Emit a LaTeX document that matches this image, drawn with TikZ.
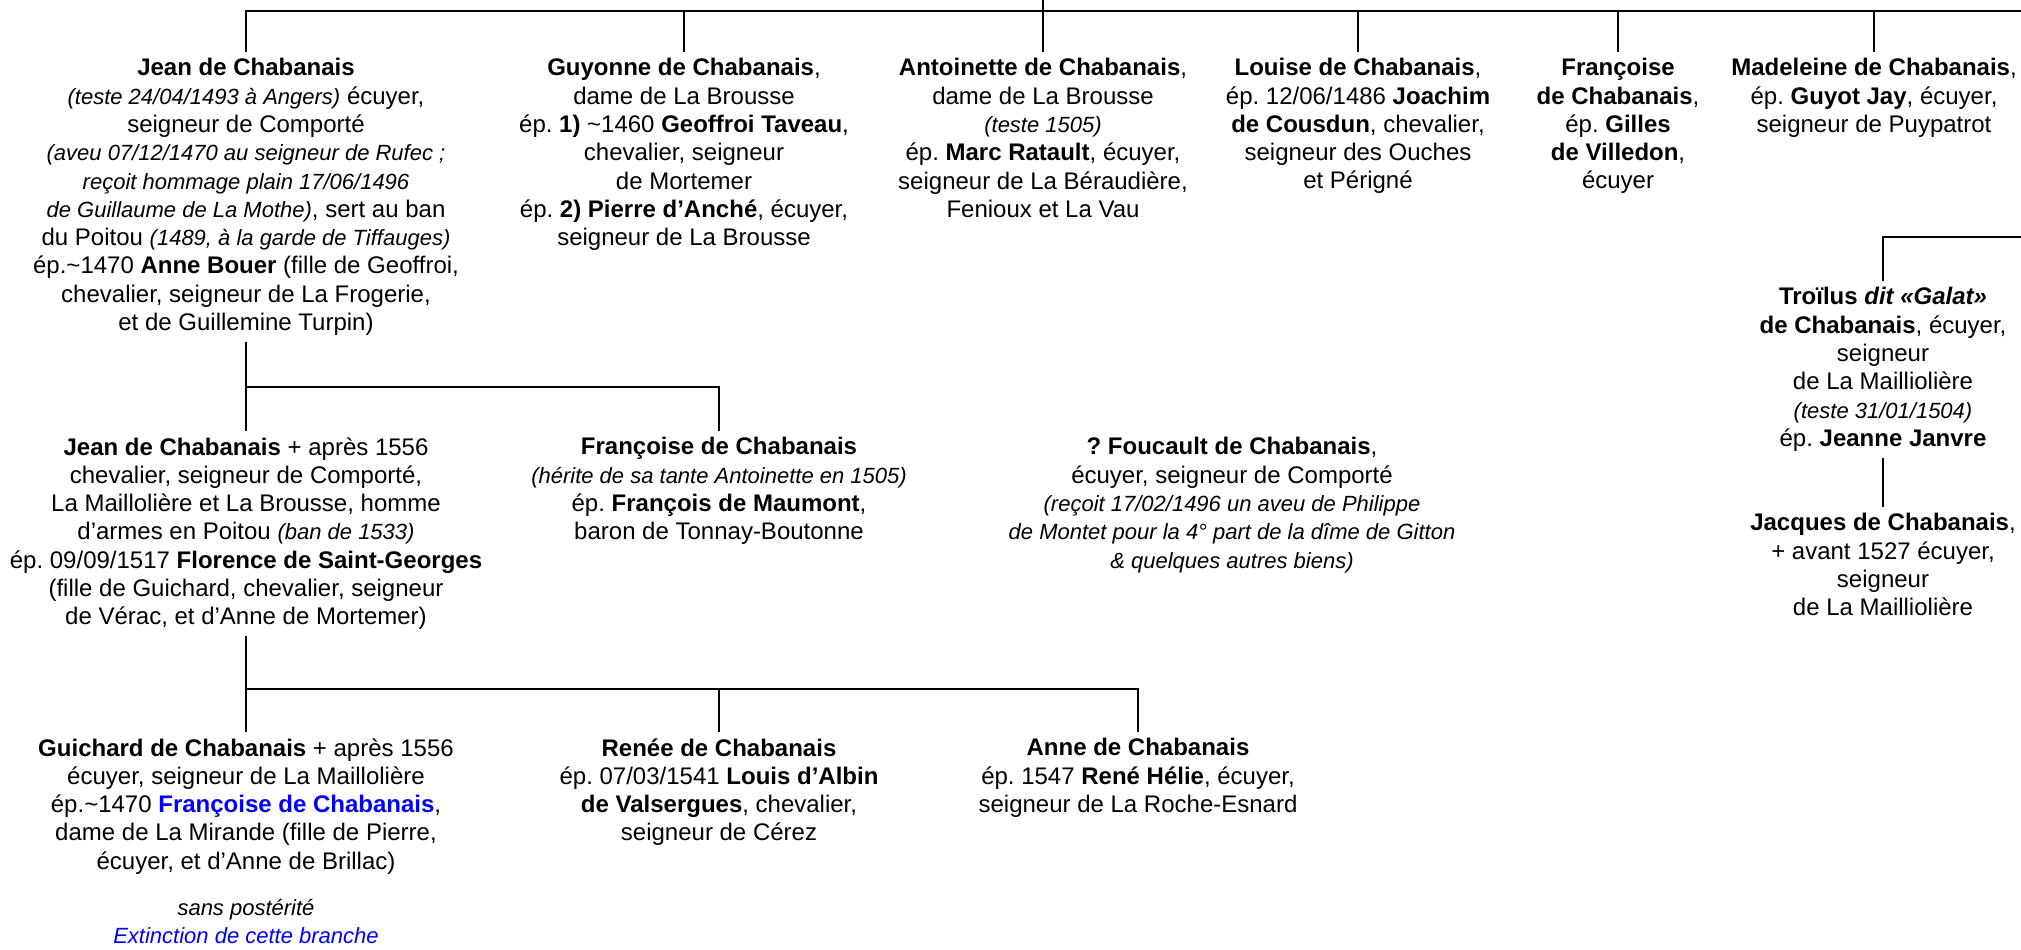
\documentclass[tikz,border=0pt]{standalone}
\usepackage{fontspec}
\setmainfont{Liberation Sans}
\frenchspacing
\newcommand\ital[1]{{\fontsize{11}{14.15}\selectfont\itshape #1}}
\tikzset{
  person/.style={anchor=north, align=center, inner sep=3pt, font=\fontsize{12}{14.15}\selectfont},
  link/.style={line width=1.3pt}
}
\begin{document}
\begin{tikzpicture}[x=0.5pt, y=-0.5pt]
\useasboundingbox (0,0) rectangle (2021,949);
% first generation
\node[person] (jean1) at (246,52) {\textbf{Jean de Chabanais}\\
\ital{(teste 24/04/1493 à Angers)} écuyer,\\
seigneur de Comporté\\
\ital{(aveu 07/12/1470 au seigneur de Rufec ;}\\
\ital{reçoit hommage plain 17/06/1496}\\
\ital{de Guillaume de La Mothe)}, sert au ban\\
du Poitou \ital{(1489, à la garde de Tiffauges)}\\
ép.\textasciitilde1470 \textbf{Anne Bouer} (fille de Geoffroi,\\
chevalier, seigneur de La Frogerie,\\
et de Guillemine Turpin)};
\node[person] (guyonne) at (684,52) {\textbf{Guyonne de Chabanais},\\
dame de La Brousse\\
ép. \textbf{1)} \textasciitilde1460 \textbf{Geoffroi Taveau},\\
chevalier, seigneur\\
de Mortemer\\
ép. \textbf{2) Pierre d’Anché}, écuyer,\\
seigneur de La Brousse};
\node[person] (antoinette) at (1043,52) {\textbf{Antoinette de Chabanais},\\
dame de La Brousse\\
\ital{(teste 1505)}\\
ép. \textbf{Marc Ratault}, écuyer,\\
seigneur de La Béraudière,\\
Fenioux et La Vau};
\node[person] (louise) at (1358,52) {\textbf{Louise de Chabanais},\\
ép. 12/06/1486 \textbf{Joachim}\\
\textbf{de Cousdun}, chevalier,\\
seigneur des Ouches\\
et Périgné};
\node[person] (francoiseA) at (1618,52) {\textbf{Françoise}\\
\textbf{de Chabanais},\\
ép. \textbf{Gilles}\\
\textbf{de Villedon},\\
écuyer};
\node[person] (madeleine) at (1874,52) {\textbf{Madeleine de Chabanais},\\
ép. \textbf{Guyot Jay}, écuyer,\\
seigneur de Puypatrot};
% branch on the right
\node[person] (troilus) at (1883,281) {\textbf{Troïlus \textit{dit «Galat»}}\\
\textbf{de Chabanais}, écuyer,\\
seigneur\\
de La Mailliolière\\
\ital{(teste 31/01/1504)}\\
ép. \textbf{Jeanne Janvre}};
\node[person] (jacques) at (1883,507) {\textbf{Jacques de Chabanais},\\
+ avant 1527 écuyer,\\
seigneur\\
de La Mailliolière};
% second generation
\node[person] (jean2) at (246,431) {\textbf{Jean de Chabanais} + après 1556\\
chevalier, seigneur de Comporté,\\
La Maillolière et La Brousse, homme\\
d’armes en Poitou \ital{(ban de 1533)}\\
ép. 09/09/1517 \textbf{Florence de Saint-Georges}\\
(fille de Guichard, chevalier, seigneur\\
de Vérac, et d’Anne de Mortemer)};
\node[person] (francoiseB) at (719,431) {\textbf{Françoise de Chabanais}\\
\ital{(hérite de sa tante Antoinette en 1505)}\\
ép. \textbf{François de Maumont},\\
baron de Tonnay-Boutonne};
\node[person] (foucault) at (1232,431) {\textbf{? Foucault de Chabanais},\\
écuyer, seigneur de Comporté\\
\ital{(reçoit 17/02/1496 un aveu de Philippe}\\
\ital{de Montet pour la 4° part de la dîme de Gitton}\\
\ital{\& quelques autres biens)}};
% third generation
\node[person] (guichard) at (246,732) {\textbf{Guichard de Chabanais} + après 1556\\
écuyer, seigneur de La Maillolière\\
ép.\textasciitilde1470 \textcolor{blue}{\textbf{Françoise de Chabanais}},\\
dame de La Mirande (fille de Pierre,\\
écuyer, et d’Anne de Brillac)\\[9pt]
\ital{sans postérité}\\
\textcolor{blue}{\ital{Extinction de cette branche}}};
\node[person] (renee) at (719,732) {\textbf{Renée de Chabanais}\\
ép. 07/03/1541 \textbf{Louis d’Albin}\\
\textbf{de Valsergues}, chevalier,\\
seigneur de Cérez};
\node[person] (anne) at (1138,732) {\textbf{Anne de Chabanais}\\
ép. 1547 \textbf{René Hélie}, écuyer,\\
seigneur de La Roche-Esnard};
% connectors
\coordinate (root) at (1043,0);
\coordinate (bar1) at (2021,11);
\coordinate (bar2) at (246,387);
\coordinate (bar3) at (246,689);
\coordinate (bar4) at (2021,237);
\draw[link] (jean1.north) |- (bar1);
\draw[link] (root) -- (antoinette.north);
\foreach \n in {guyonne,louise,francoiseA,madeleine}
  \draw[link] (\n.north) -- (\n.north |- bar1);
\draw[link] (jean1.south) -- (bar2) -- (jean2.north);
\draw[link] (bar2) -| (francoiseB.north);
\draw[link] (jean2.south) -- (bar3) -- (guichard.north);
\draw[link] (bar3) -| (anne.north);
\draw[link] (renee.north) -- (renee.north |- bar3);
\draw[link] (troilus.north) |- (bar4);
\draw[link] (troilus.south) -- (jacques.north);
\end{tikzpicture}
\end{document}
